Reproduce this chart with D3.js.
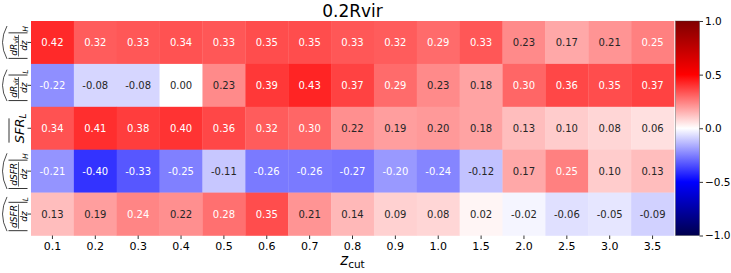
<!DOCTYPE html>
<html>
<head>
<meta charset="utf-8">
<script src="https://cdnjs.cloudflare.com/ajax/libs/d3/7.8.5/d3.min.js"></script>
<style>
  body { margin: 0; background: #fff; }
  svg { font-family: "DejaVu Sans", sans-serif; }
  .axis path { display: none; }
  .axis line { stroke: #000; stroke-width: 0.8; }
  .axis text { fill: #000; font-size: 11px; font-family: "DejaVu Sans", sans-serif; }
</style>
</head>
<body>
<div id="chart"></div>
<script>

// data
var zcut = ["0.1", "0.2", "0.3", "0.4", "0.5", "0.6", "0.7", "0.8", "0.9", "1.0", "1.5", "2.0", "2.5", "3.0", "3.5"];
var rowKeys = ["dRdzH", "dRdzL", "SFRL", "dSFRdzH", "dSFRdzL"];

var dRdzH   = [0.42, 0.32, 0.33, 0.34, 0.33, 0.35, 0.35, 0.33, 0.32, 0.29, 0.33, 0.23, 0.17, 0.21, 0.25];
var dRdzL   = [-0.22, -0.08, -0.08, 0.00, 0.23, 0.39, 0.43, 0.37, 0.29, 0.23, 0.18, 0.30, 0.36, 0.35, 0.37];
var SFRL    = [0.34, 0.41, 0.38, 0.40, 0.36, 0.32, 0.30, 0.22, 0.19, 0.20, 0.18, 0.13, 0.10, 0.08, 0.06];
var dSFRdzH = [-0.21, -0.40, -0.33, -0.25, -0.11, -0.26, -0.26, -0.27, -0.20, -0.24, -0.12, 0.17, 0.25, 0.10, 0.13];
var dSFRdzL = [0.13, 0.19, 0.24, 0.22, 0.28, 0.35, 0.21, 0.14, 0.09, 0.08, 0.02, -0.02, -0.06, -0.05, -0.09];

var rowValues = [dRdzH, dRdzL, SFRL, dSFRdzH, dSFRdzL];
var cbTicks = [-1, -0.5, 0, 0.5, 1];

var W = 731, H = 273;
var margin = {left: 31, right: 674, top: 21, bottom: 235.5};

var svg = d3.select("#chart").append("svg")
    .attr("width", W)
    .attr("height", H);

// seismic colormap
var color = d3.scaleLinear()
    .domain([-1, -0.5, 0, 0.5, 1])
    .range(["rgb(0,0,77)", "rgb(0,0,255)", "rgb(255,255,255)", "rgb(255,0,0)", "rgb(128,0,0)"])
    .clamp(true);

var x = d3.scaleBand().domain(zcut).range([margin.left, margin.right]);
var y = d3.scaleBand().domain(rowKeys).range([margin.top, margin.bottom]);

var cells = [];
rowKeys.forEach(function(k, i) {
    zcut.forEach(function(z, j) {
        cells.push({row: k, col: z, v: rowValues[i][j]});
    });
});

function lum(c) {
    var rgb = d3.rgb(c);
    var f = function(u) { u = u / 255; return u <= 0.03928 ? u / 12.92 : Math.pow((u + 0.055) / 1.055, 2.4); };
    return 0.2126 * f(rgb.r) + 0.7152 * f(rgb.g) + 0.0722 * f(rgb.b);
}

svg.append("g").selectAll("rect")
    .data(cells)
    .enter()
    .append("rect")
    .attr("x", d => x(d.col))
    .attr("y", d => y(d.row))
    .attr("width", x.bandwidth() + 0.3)
    .attr("height", y.bandwidth() + 0.3)
    .attr("fill", d => color(d.v));

svg.append("g").selectAll("text")
    .data(cells)
    .enter()
    .append("text")
    .attr("x", d => x(d.col) + x.bandwidth() / 2)
    .attr("y", d => y(d.row) + y.bandwidth() / 2)
    .attr("text-anchor", "middle")
    .attr("dominant-baseline", "central")
    .style("font-size", "10px")
    .attr("fill", d => lum(color(d.v)) > 0.408 ? "#262626" : "#fff")
    .text(d => d.v.toFixed(2));

// x axis
var xAxis = d3.axisBottom(x).tickSize(3.5).tickPadding(3.5);
svg.append("g")
    .attr("class", "x-axis axis")
    .attr("transform", "translate(0," + margin.bottom + ")")
    .call(xAxis);

// y axis ticks (labels drawn separately)
var yAxis = d3.axisLeft(y).tickSize(3.5).tickFormat("");
svg.append("g")
    .attr("class", "y-axis axis")
    .attr("transform", "translate(" + margin.left + ",0)")
    .call(yAxis);

// row labels, rotated math-like expressions
function fracLabel(g, num, numSub, den, sub) {
    var inner = g.append("g");
    var fs = 9;
    var nt = inner.append("text").attr("y", -1.8).style("font-size", fs + "px").style("font-style", "italic");
    nt.append("tspan").text(num);
    nt.append("tspan").attr("dy", 1.6).style("font-size", "6.3px").style("font-style", "normal").text(numSub);
    var dt = inner.append("text").attr("y", 8).style("font-size", fs + "px").style("font-style", "italic").text(den);
    var fw = Math.max(nt.node().getComputedTextLength(), dt.node().getComputedTextLength()) + 1.5;
    var x0 = 2.5;
    nt.attr("x", x0 + fw / 2).attr("text-anchor", "middle");
    dt.attr("x", x0 + fw / 2).attr("text-anchor", "middle");
    inner.append("line").attr("x1", x0).attr("x2", x0 + fw).attr("y1", 0).attr("y2", 0)
        .attr("stroke", "#000").attr("stroke-width", 0.6);
    inner.append("line").attr("x1", 0.5).attr("x2", 0.5).attr("y1", -10).attr("y2", 9)
        .attr("stroke", "#000").attr("stroke-width", 0.8);
    var xb = x0 + fw + 2;
    inner.append("line").attr("x1", xb).attr("x2", xb).attr("y1", -10).attr("y2", 9)
        .attr("stroke", "#000").attr("stroke-width", 0.8);
    var st = inner.append("text").attr("x", xb + 1.2).attr("y", 9)
        .style("font-size", "7.5px").style("font-style", "italic").text(sub);
    var total = xb + 1.2 + st.node().getComputedTextLength();
    inner.append("path")
        .attr("d", "M0,-11.5 Q" + total / 2 + ",-20.5 " + total + ",-11.5")
        .attr("fill", "none").attr("stroke", "#000").attr("stroke-width", 0.7);
    inner.attr("transform", "translate(" + (-total / 2) + ",0)");
}

function barLabel(g, txt, sub) {
    var inner = g.append("g");
    var t = inner.append("text").attr("y", 5).style("font-size", "13px").style("font-style", "italic");
    t.append("tspan").text(txt);
    t.append("tspan").attr("dy", 2.5).style("font-size", "9px").text(sub);
    var total = t.node().getComputedTextLength();
    inner.append("line").attr("x1", 0.5).attr("x2", total - 5).attr("y1", -9.5).attr("y2", -9.5)
        .attr("stroke", "#000").attr("stroke-width", 0.8);
    inner.attr("transform", "translate(" + (-total / 2) + ",0)");
}

var labelX = 18.5;
function rowG(k) {
    return svg.append("g")
        .attr("transform", "translate(" + labelX + "," + (y(k) + y.bandwidth() / 2) + ") rotate(-90)");
}
fracLabel(rowG("dRdzH"), "dR", "vir", "dz", "H");
fracLabel(rowG("dRdzL"), "dR", "vir", "dz", "L");
barLabel(rowG("SFRL"), "SFR", "L");
fracLabel(rowG("dSFRdzH"), "dSFR", "", "dz", "H");
fracLabel(rowG("dSFRdzL"), "dSFR", "", "dz", "L");

// title
svg.append("text")
    .attr("x", (margin.left + margin.right) / 2)
    .attr("y", 17.3)
    .attr("text-anchor", "middle")
    .style("font-size", "17px")
    .text("0.2Rvir");

// x label
var xl = svg.append("text")
    .attr("x", (margin.left + margin.right) / 2)
    .attr("y", 265)
    .attr("text-anchor", "middle")
    .style("font-size", "15px");
xl.append("tspan").style("font-style", "italic").text("z");
xl.append("tspan").attr("dy", 3).style("font-size", "10.5px").text("cut");

// colorbar
var cbX = 675.5, cbW = 24;
var cbScale = d3.scaleLinear().domain([-1, 1]).range([margin.bottom, margin.top]);

var grad = svg.append("defs").append("linearGradient")
    .attr("id", "cbgrad")
    .attr("x1", 0).attr("y1", 1).attr("x2", 0).attr("y2", 0);
color.domain().forEach(function(d) {
    grad.append("stop")
        .attr("offset", (d + 1) / 2)
        .attr("stop-color", color(d));
});

svg.append("rect")
    .attr("x", cbX)
    .attr("y", margin.top)
    .attr("width", cbW)
    .attr("height", margin.bottom - margin.top)
    .attr("fill", "url(#cbgrad)")
    .attr("stroke", "#333")
    .attr("stroke-opacity", 0.6)
    .attr("stroke-width", 0.6);

var cbAxis = d3.axisRight(cbScale)
    .tickValues(cbTicks)
    .tickSize(3.5)
    .tickPadding(2)
    .tickFormat(d3.format(".1f"));

svg.append("g")
    .attr("class", "cb-axis axis")
    .attr("transform", "translate(" + (cbX + cbW) + ",0)")
    .call(cbAxis)
    .selectAll("text").style("font-size", "10.5px");

</script>
</body>
</html>
